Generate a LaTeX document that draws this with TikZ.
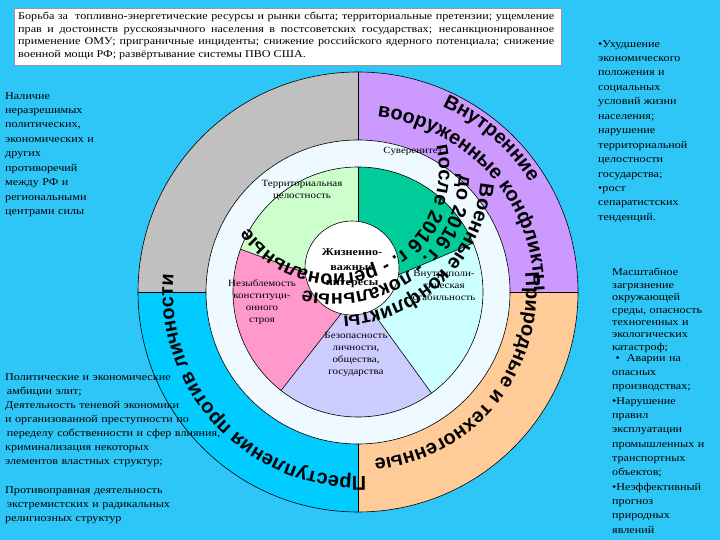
\documentclass[tikz,border=0pt]{standalone}
\usepackage{fontspec}
\setmainfont{Liberation Serif}[FakeStretch=1.16]
\newfontfamily\arialf{Liberation Sans}
\usetikzlibrary{decorations.text,calc}

\definecolor{skyblue}{HTML}{2EC6F6}
\definecolor{ringgray}{HTML}{C0C0C0}
\definecolor{ringviolet}{HTML}{CC99FF}
\definecolor{ringblue}{HTML}{00CCFF}
\definecolor{ringorange}{HTML}{FFCC99}
\definecolor{pieterr}{HTML}{CCFFCC}
\definecolor{piesov}{HTML}{00CC99}
\definecolor{piestab}{HTML}{CCFFFF}
\definecolor{piesafe}{HTML}{CCCCFF}
\definecolor{piecons}{HTML}{FF99CC}
\definecolor{whitering}{HTML}{EEFAFF}

% text along an arc, clockwise
\newcommand\arctext[6]{\path[decorate,decoration={text along path,text align=center,
  text={|\arialf\bfseries\fontsize{#5}{#5}\selectfont|#6}}] (#1) ++(#2:#3) arc[start angle=#2,end angle=#4,radius=#3];}

\begin{document}
\begin{tikzpicture}[x=1bp,y=1bp]

\tikzstyle{sidetext} = [anchor=north west,inner sep=0,align=left,font=\fontsize{10.5}{14.5}\selectfont]
\tikzstyle{pietext} = [inner sep=0,align=center,font=\fontsize{9.5}{12}\selectfont]
\tikzstyle{ringline} = [draw=black,line width=0.6]

\useasboundingbox (0,0) rectangle (720,540);
\shade[top color=skyblue,middle color=white,bottom color=skyblue] (0,0) rectangle (720,540);

\coordinate (c) at (358,248);
\coordinate (k) at (335,370);

% outer ring
\fill[ringviolet] (c) -- ++(0:220) arc[start angle=0,end angle=90,radius=220] -- cycle;
\fill[ringgray] (c) -- ++(90:220) arc[start angle=90,end angle=180,radius=220] -- cycle;
\fill[ringblue] (c) -- ++(180:220) arc[start angle=180,end angle=270,radius=220] -- cycle;
\fill[ringorange] (c) -- ++(270:220) arc[start angle=270,end angle=360,radius=220] -- cycle;
\draw[ringline] (c) circle[radius=220];
\draw[ringline] ($(c)+(-220,0)$) -- ($(c)+(220,0)$);
\draw[ringline] ($(c)+(0,-220)$) -- ($(c)+(0,220)$);
\filldraw[ringline,fill=whitering] (c) circle[radius=152];

% inner pie
\fill[pieterr] (c) -- ++(90:125) arc[start angle=90,end angle=160,radius=125] -- cycle;
\fill[piecons] (c) -- ++(160:125) arc[start angle=160,end angle=232,radius=125] -- cycle;
\fill[piesafe] (c) -- ++(232:125) arc[start angle=232,end angle=306,radius=125] -- cycle;
\fill[piestab] (c) -- ++(306:125) arc[start angle=306,end angle=383,radius=125] -- cycle;
\fill[piesov] (c) -- ++(23:125) arc[start angle=23,end angle=90,radius=125] -- cycle;
\foreach \a in {90,160,232,306,23}
  \draw[ringline] (c) -- ++(\a:125);
\draw[ringline] (c) circle[radius=125];
\filldraw[ringline,fill=white] (352,272) circle[radius=47];

% top box
\node[draw=black!40,fill=white,anchor=north west,minimum width=549,minimum height=57,inner sep=0] (topbox) at (14,532) {};
\node[anchor=north west,inner sep=0,text width=538,align=justify,font=\fontsize{10.5}{12.5}\selectfont] (toptext) at (18,528)
  {Борьба за \ топливно-энергетические ресурсы и рынки сбыта; территориальные претензии; ущемление\linebreak прав и достоинств русскоязычного населения в постсоветских государствах; несанкционированное\linebreak применение ОМУ; приграничные инциденты; снижение российского ядерного потенциала; снижение\linebreak военной мощи РФ; развёртывание системы ПВО США.};

% pie labels
\node[pietext] (terr) at (302,350) {Территориальная\\целостность};
\node[pietext] (sov) at (413,389) {Суверенитет};
\node[pietext] (stab) at (444,255) {Внутриполи-\\тическая\\стабильность};
\node[pietext] (cons) at (262,238) {Незыблемость\\конституци-\\онного\\строя};
\node[pietext] (safe) at (356,186) {Безопасность\\личности,\\общества,\\государства};
\node[pietext,font=\bfseries\fontsize{10.5}{15}\selectfont] (core) at (352,272) {Жизненно-\\важные\\интересы};

% ring texts
\arctext{c}{68}{204}{30}{20}{Внутренние}
\arctext{c}{92}{176}{-8}{20}{вооруженные конфликты}
\arctext{c}{8}{168}{-86}{20}{Природные и техногенные}
\arctext{c}{-78}{185}{-195}{20}{Преступления против личности}
\arctext{k}{32}{104}{-165}{20}{после 2016 г. - региональные}
\arctext{k}{25}{124}{-132}{20}{до 2016 г. - локальные}
\arctext{k}{20}{146}{-112}{20}{Военные конфликты}

% side texts
\node[sidetext,text width=160] (left1) at (5,448)
  {Наличие\\неразрешимых\\политических,\\экономических и\\других\\противоречий\\между РФ и\\региональными\\центрами силы};
\node[sidetext,text width=250,font=\fontsize{10.5}{14.2}\selectfont] (left2) at (5,167)
  {Политические и экономические\\ \,амбиции элит;\\Деятельность теневой экономики\\и организованной преступности по\\ \,переделу собственности и сфер влияния,\\криминализация некоторых\\элементов властных структур;\\[14pt]Противоправная деятельность\\ \,экстремистских и радикальных\\религиозных структур};
\node[sidetext,text width=120] (right1) at (598,500)
  {•Ухудшение\\экономического\\положения и\\социальных\\условий жизни\\населения;\\нарушение\\территориальной\\целостности\\государства;\\•рост\\сепаратистских\\тенденций.};
\node[sidetext,text width=110,font=\fontsize{10.5}{12.5}\selectfont] (right2) at (612,272)
  {Масштабное\\загрязнение\\окружающей\\среды, опасность\\техногенных и\\экологических\\катастроф;};
\node[sidetext,text width=110,font=\fontsize{10.5}{14.4}\selectfont] (right3) at (612,186)
  {\ \textbullet\ \ Аварии на\\опасных\\производствах;\\•Нарушение\\правил\\эксплуатации\\промышленных и\\транспортных\\объектов;\\•Неэффективный\\прогноз\\природных\\явлений};

\end{tikzpicture}
\end{document}
